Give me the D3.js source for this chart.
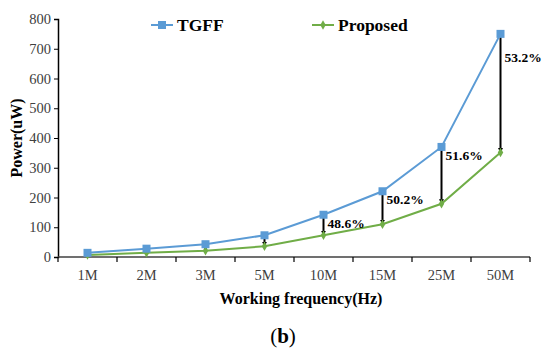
<!DOCTYPE html>
<html>
<head>
<meta charset="utf-8">
<script src="https://cdn.jsdelivr.net/npm/d3@7"></script>
<style>
  body { margin: 0; background: #fff; }
  svg text { font-family: "Liberation Serif", "Times New Roman", Tinos, "DejaVu Serif", serif !important; }
</style>
</head>
<body>
<div id="chart"></div>
<script>
var categories = ["1M", "2M", "3M", "5M", "10M", "15M", "25M", "50M"];
var tgff = [14, 28, 43, 73, 142, 221, 370, 750];
var proposed = [7, 14, 21, 36, 73, 110, 179, 351];
var yTicks = [0, 100, 200, 300, 400, 500, 600, 700, 800];
var savings = [null, null, null, null, "48.6%", "50.2%", "51.6%", "53.2%"];

var W = 550, H = 356;
var margin = { top: 19, left: 58, right: 20, bottom: 99 };
var width = 530 - margin.left,
    height = 257 - margin.top;

var svg = d3.select("#chart").append("svg")
  .attr("width", W).attr("height", H);

var defs = svg.append("defs");
defs.append("marker").attr("id", "arrow")
  .attr("viewBox", "0 0 10 10").attr("refX", 9).attr("refY", 5)
  .attr("markerWidth", 2.5).attr("markerHeight", 2.5)
  .attr("orient", "auto")
  .append("path").attr("d", "M0,0L10,5L0,10z").attr("fill", "#000");

var g = svg.append("g")
  .attr("transform", "translate(" + margin.left + "," + margin.top + ")");

var x = d3.scaleBand().domain(categories).range([0, width]);
var y = d3.scaleLinear().domain([0, 800]).range([height, 0]);
var cx = function(i) { return x(categories[i]) + x.bandwidth() / 2; };

// y axis
var yAxis = g.append("g")
  .call(d3.axisLeft(y).tickValues(yTicks).tickSize(4).tickPadding(3));
yAxis.select(".domain").attr("stroke", "#000").attr("stroke-width", 1.5);
yAxis.selectAll(".tick line").attr("stroke", "#000");
yAxis.selectAll(".tick text")
  .attr("font-size", 14.5).attr("fill", "#404040");

// x axis: ticks at band edges
var xAxis = g.append("g").attr("transform", "translate(0," + height + ")");
xAxis.append("line").attr("x1", 0).attr("x2", width)
  .attr("stroke", "#404040").attr("stroke-width", 1.5);
xAxis.selectAll(".xt").data(d3.range(categories.length + 1)).enter()
  .append("line").attr("class", "xt")
  .attr("x1", function(i) { return i * x.step(); })
  .attr("x2", function(i) { return i * x.step(); })
  .attr("y1", 0).attr("y2", 5)
  .attr("stroke", "#000").attr("stroke-width", 1.2);
xAxis.selectAll(".xl").data(categories).enter()
  .append("text").attr("class", "xl")
  .attr("x", function(d) { return x(d) + x.bandwidth() / 2; })
  .attr("y", 23)
  .attr("text-anchor", "middle")
  .attr("font-size", 14.5).attr("fill", "#404040")
  .text(function(d) { return d; });

// arrows between series
g.selectAll(".gap").data(categories).enter()
  .append("line").attr("class", "gap")
  .attr("x1", function(d, i) { return cx(i); })
  .attr("x2", function(d, i) { return cx(i); })
  .attr("y1", function(d, i) { return y(tgff[i]); })
  .attr("y2", function(d, i) { return y(proposed[i]); })
  .attr("stroke", "#000").attr("stroke-width", 2)
  .attr("marker-end", "url(#arrow)");

var line = d3.line()
  .x(function(d, i) { return cx(i); })
  .y(function(d) { return y(d); });

g.append("path").datum(proposed).attr("d", line)
  .attr("fill", "none").attr("stroke", "#70AD47").attr("stroke-width", 2);
g.append("path").datum(tgff).attr("d", line)
  .attr("fill", "none").attr("stroke", "#5B9BD5").attr("stroke-width", 2);

var diamond = d3.symbol().type(d3.symbolDiamond).size(26);
g.selectAll(".pm").data(proposed).enter()
  .append("path").attr("class", "pm")
  .attr("d", diamond)
  .attr("transform", function(d, i) { return "translate(" + cx(i) + "," + y(d) + ")"; })
  .attr("fill", "#70AD47");

g.selectAll(".tm").data(tgff).enter()
  .append("rect").attr("class", "tm")
  .attr("x", function(d, i) { return cx(i) - 4; })
  .attr("y", function(d) { return y(d) - 4; })
  .attr("width", 8).attr("height", 8)
  .attr("fill", "#5B9BD5");

// percent labels
g.selectAll(".pct").data(savings).enter()
  .filter(function(d) { return d; })
  .append("text").attr("class", "pct")
  .attr("x", function(d) { var i = savings.indexOf(d); return cx(i) + 4; })
  .attr("y", function(d) {
    var i = savings.indexOf(d);
    var off = i === savings.length - 1 ? 28 : 13;
    return y(tgff[i]) + off;
  })
  .attr("font-size", 13.5).attr("font-weight", "bold")
  .text(function(d) { return d; });

// axis titles
svg.append("text")
  .attr("transform", "translate(22," + (margin.top + height / 2) + ") rotate(-90)")
  .attr("text-anchor", "middle")
  .attr("font-size", 16).attr("font-weight", "bold")
  .text("Power(uW)");

svg.append("text")
  .attr("x", 301).attr("y", 304)
  .attr("text-anchor", "middle")
  .attr("font-size", 16).attr("font-weight", "bold")
  .text("Working frequency(Hz)");

// legend
var legend = [
  { name: "TGFF", color: "#5B9BD5", x: 151, type: "square" },
  { name: "Proposed", color: "#70AD47", x: 312, type: "diamond" }
];
legend.forEach(function(l) {
  var lg = svg.append("g").attr("transform", "translate(" + l.x + ",25)");
  lg.append("line").attr("x1", 0).attr("x2", 22)
    .attr("stroke", l.color).attr("stroke-width", 2);
  if (l.type === "square") {
    lg.append("rect").attr("x", 7).attr("y", -4).attr("width", 8).attr("height", 8)
      .attr("fill", l.color);
  } else {
    lg.append("path").attr("d", diamond).attr("transform", "translate(11,0)")
      .attr("fill", l.color);
  }
  lg.append("text").attr("x", 26).attr("y", 6)
    .attr("font-size", 17.5).attr("font-weight", "bold")
    .text(l.name);
});

// panel caption
var cap = svg.append("text")
  .attr("x", 283).attr("y", 343)
  .attr("text-anchor", "middle")
  .attr("font-size", 21);
cap.append("tspan").text("(");
cap.append("tspan").attr("font-weight", "bold").text("b");
cap.append("tspan").text(")");
</script>
</body>
</html>
